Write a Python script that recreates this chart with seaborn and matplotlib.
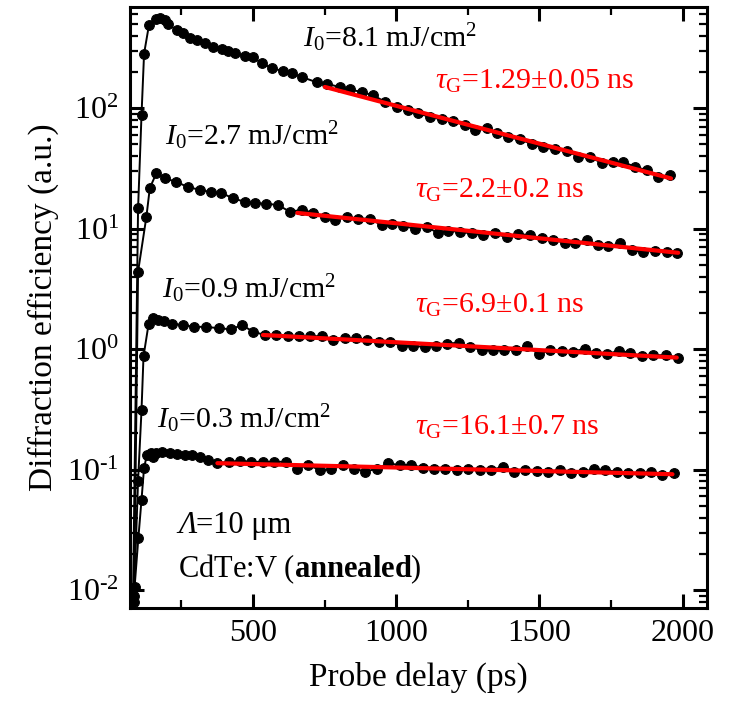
import numpy as np
import pandas as pd
import matplotlib
matplotlib.use("Agg")
import matplotlib.pyplot as plt
import matplotlib.transforms as mtransforms
import seaborn as sns
from matplotlib.ticker import FixedLocator, MultipleLocator, LogLocator, NullFormatter, FuncFormatter

# ---------------- data ----------------
A_t = [80, 99, 111, 120, 137, 163, 175, 192, 204, 234, 255, 280, 304, 332, 360, 391, 412, 437, 472, 500,
       531, 566, 604, 636, 671, 723, 758, 804, 839, 880, 919, 961, 1003, 1041, 1076, 1118, 1160, 1198, 1240,
       1275, 1317, 1352, 1391, 1433, 1475, 1513, 1555, 1597, 1635, 1677, 1719, 1757, 1792, 1834, 1876, 1915, 1957]
A_v = [0.005, 14.7, 87.5, 284, 488, 554, 565, 536, 497, 444, 419, 381, 367, 346, 321, 309, 297, 286, 270, 264,
       236, 215, 203, 195, 181, 164, 160, 149, 143, 136, 128, 113, 102.5, 96.2, 90.4, 84.7, 80.5, 78, 72.3,
       65.6, 67.9, 61.7, 57.1, 55, 50.2, 47.2, 45.4, 44.2, 39.5, 39, 35.2, 35.8, 35.8, 32.6, 30.5, 26.9, 27.8]

B_t = [85, 99, 128, 140, 163, 192, 233, 274, 314, 355, 390, 431, 472, 507, 547, 588, 629, 670, 710, 751,
       786, 827, 868, 908, 949, 984, 1025, 1066, 1107, 1147, 1182, 1223, 1264, 1304, 1345, 1386, 1427, 1468,
       1508, 1549, 1590, 1625, 1666, 1706, 1741, 1782, 1823, 1863, 1904, 1945, 1980]
B_v = [0.008, 4.4, 12.5, 21.7, 28.9, 26.1, 24.5, 22.0, 21.1, 20.0, 19.8, 17.8, 16.7, 16.3, 16.1, 15.7, 13.8,
       14.3, 13.6, 12.5, 11.8, 12.5, 12.1, 12.1, 10.7, 11.0, 10.5, 10.0, 10.4, 9.12, 9.6, 9.4, 9.12, 8.83, 9.12,
       8.45, 9.0, 8.83, 8.3, 8.04, 7.62, 7.53, 8.04, 7.3, 7.16, 7.53, 6.63, 6.42, 6.55, 6.42, 6.3]

C_t = [85, 99, 111, 118, 136, 150, 170, 189, 216, 256, 296, 335, 382, 422, 462, 502, 542, 581, 621, 661,
       701, 741, 781, 820, 860, 900, 940, 980, 1020, 1060, 1100, 1139, 1179, 1219, 1259, 1299, 1339, 1378,
       1418, 1458, 1498, 1538, 1578, 1618, 1658, 1697, 1737, 1777, 1817, 1857, 1897, 1943, 1983]
C_v = [0.009, 0.081, 0.31, 0.87, 1.63, 1.80, 1.76, 1.72, 1.63, 1.58, 1.53, 1.53, 1.49, 1.46, 1.58, 1.39,
       1.31, 1.31, 1.28, 1.28, 1.28, 1.28, 1.19, 1.23, 1.23, 1.20, 1.15, 1.15, 1.06, 1.06, 1.045, 1.06, 1.11,
       1.13, 1.045, 0.98, 0.98, 0.99, 0.98, 1.06, 0.91, 0.98, 0.968, 0.95, 1.01, 0.92, 0.91, 0.968, 0.93,
       0.875, 0.89, 0.89, 0.85]

D_t = [87, 100, 111, 120, 130, 143, 150, 163, 183, 209, 236, 262, 289, 316, 342, 376, 415, 455, 495, 535,
       575, 615, 654, 694, 734, 774, 814, 854, 893, 933, 973, 1013, 1053, 1093, 1133, 1172, 1212, 1252, 1292,
       1332, 1372, 1412, 1451, 1491, 1531, 1571, 1611, 1651, 1691, 1731, 1770, 1810, 1850, 1890, 1930, 1970]
D_v = [0.0107, 0.027, 0.056, 0.104, 0.132, 0.136, 0.128, 0.138, 0.141, 0.136, 0.135, 0.132, 0.132, 0.128,
       0.120, 0.1125, 0.116, 0.118, 0.116, 0.116, 0.116, 0.116, 0.102, 0.109, 0.099, 0.1005, 0.109, 0.102,
       0.096, 0.102, 0.1125, 0.109, 0.109, 0.104, 0.102, 0.102, 0.099, 0.102, 0.099, 0.099, 0.1055, 0.096,
       0.099, 0.0977, 0.096, 0.099, 0.094, 0.096, 0.1005, 0.099, 0.096, 0.094, 0.093, 0.096, 0.090, 0.093]

# exponential fits (straight segments on the log axis): endpoints
fit_t = {"A": [751, 1960], "B": [655, 1985], "C": [535, 1980], "D": [376, 1965]}
fit_v = {"A": [150, 26.1], "B": [13.5, 6.3], "C": [1.31, 0.85], "D": [0.113, 0.0915]}

fluence_labels = [r"$I_0$=8.1 mJ/cm$^2$", r"$I_0$=2.7 mJ/cm$^2$", r"$I_0$=0.9 mJ/cm$^2$", r"$I_0$=0.3 mJ/cm$^2$"]
tau_labels = [r"$\tau_\mathrm{G}$=1.29±0.05 ns", r"$\tau_\mathrm{G}$=2.2±0.2 ns",
              r"$\tau_\mathrm{G}$=6.9±0.1 ns", r"$\tau_\mathrm{G}$=16.1±0.7 ns"]
x_ticks = [500, 1000, 1500, 2000]
y_ticks = [1e-2, 1e-1, 1e0, 1e1, 1e2]

# ---------------- style ----------------
sns.set_style("ticks")
plt.rcParams.update({
    "font.family": ["Liberation Serif", "DejaVu Serif"],
    "mathtext.fontset": "custom",
    "mathtext.rm": "Liberation Serif",
    "mathtext.it": "Liberation Serif:italic",
    "mathtext.bf": "Liberation Serif:bold",
    "axes.unicode_minus": False,
    "axes.linewidth": 2.2,
    "text.color": "black",
    "axes.labelcolor": "black",
    "axes.edgecolor": "black",
    "xtick.color": "black",
    "ytick.color": "black",
})

fig = plt.figure(figsize=(7.29, 7.09), dpi=100)
ax = fig.add_axes([0.178, 0.1425, 0.792, 0.8475])

series = {"A": (A_t, A_v), "B": (B_t, B_v), "C": (C_t, C_v), "D": (D_t, D_v)}
for key, (t, v) in series.items():
    df = pd.DataFrame({"t": t, "v": v})
    sns.lineplot(data=df, x="t", y="v", ax=ax, color="black", linewidth=1.4, marker="o",
                 markersize=7, markeredgecolor="black", markeredgewidth=0.8,
                 sort=False, estimator=None, legend=False, zorder=3)
for key in ["A", "B", "C", "D"]:
    dff = pd.DataFrame({"t": fit_t[key], "v": fit_v[key]})
    sns.lineplot(data=dff, x="t", y="v", ax=ax, color="#ff0000", linewidth=3.0,
                 sort=False, estimator=None, legend=False, zorder=4)

ax.set_yscale("log")
ax.set_xlim(70, 2086)
ax.set_ylim(0.0071, 690)

ax.xaxis.set_major_locator(FixedLocator(x_ticks))
ax.xaxis.set_minor_locator(MultipleLocator(250))
ax.yaxis.set_major_locator(FixedLocator(y_ticks))
ax.yaxis.set_minor_locator(LogLocator(base=10, subs=np.arange(2, 10)))
ax.yaxis.set_minor_formatter(NullFormatter())


def yfmt(val, pos):
    e = int(round(np.log10(val)))
    if e < 0:
        return r"$10^{\text{-}%d}$" % (-e)
    return r"$10^{%d}$" % e


ax.yaxis.set_major_formatter(FuncFormatter(yfmt))
ax.tick_params(which="both", direction="in", top=True, right=True)
ax.tick_params(which="major", length=10, width=2.2, labelsize=23, pad=8)
ax.tick_params(which="minor", length=6, width=1.6)

ax.set_xlabel("Probe delay (ps)", fontsize=24, labelpad=10)
ax.set_ylabel("Diffraction efficiency (a.u.)", fontsize=24, labelpad=6)

# annotations
fl_pos = [(674, 321), (192, 49.3), (182, 2.65), (164, 0.221)]
for s, (x, y) in zip(fluence_labels, fl_pos):
    ax.text(x, y, s, fontsize=21.5, color="black", ha="left", va="baseline")
tau_pos = [(1136, 146), (1066, 17.9), (1066, 1.99), (1066, 0.193)]
for s, (x, y) in zip(tau_labels, tau_pos):
    ax.text(x, y, s, fontsize=21.5, color="#ff0000", ha="left", va="baseline")
lam = ax.text(238, 0.0297, "Λ", fontsize=22, fontstyle="italic", ha="left", va="baseline")
fig.canvas.draw()
lam_w = lam.get_window_extent(renderer=fig.canvas.get_renderer()).width
ax.text(238, 0.0297, "=10 μm", fontsize=22, ha="left", va="baseline",
        transform=mtransforms.offset_copy(ax.transData, fig=fig, x=lam_w, y=0, units="dots"))
ax.text(238, 0.0128, r"CdTe:V ($\mathbf{annealed}$)", fontsize=22, ha="left", va="baseline")

fig.savefig("out.png", dpi=100)
